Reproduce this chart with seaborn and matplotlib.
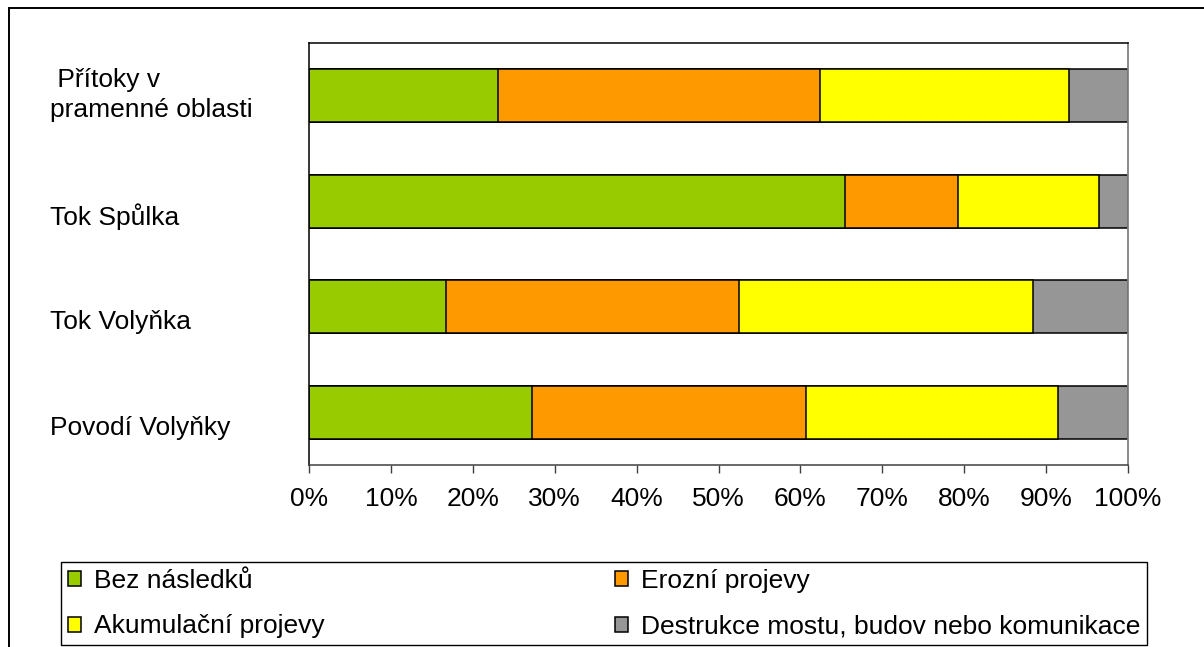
import matplotlib
matplotlib.use("Agg")
import matplotlib.pyplot as plt
from matplotlib.patches import Rectangle
from matplotlib.transforms import ScaledTranslation
import numpy as np
import pandas as pd
import seaborn as sns

# Share of observed flood effects per section (percent)
categories = [" Přítoky v\npramenné oblasti", "Tok Spůlka", "Tok Volyňka", "Povodí Volyňky"]
series_names = ["Bez následků", "Erozní projevy", "Akumulační projevy",
                "Destrukce mostu, budov nebo komunikace"]
bez_nasledku = [23.1, 65.4, 16.7, 27.2]
erozni = [39.3, 13.9, 35.8, 33.5]
akumulacni = [30.4, 17.2, 35.9, 30.8]
destrukce = [7.2, 3.5, 11.6, 8.5]
x_ticks = list(range(0, 101, 10))
x_tick_labels = [f"{v}%" for v in x_ticks]

colors = ["#99CC00", "#FF9900", "#FFFF00", "#969696"]

sns.set_theme(style="white")
plt.rcParams["font.family"] = ["Liberation Sans", "DejaVu Sans"]
plt.rcParams["text.color"] = "black"
plt.rcParams["xtick.color"] = "black"
plt.rcParams["ytick.color"] = "black"

DPI = 100
fig = plt.figure(figsize=(12.04, 6.47), dpi=DPI)
ax = fig.add_axes([309 / 1204, 1 - 465 / 647, (1128 - 309) / 1204, (465 - 43) / 647])

series = [bez_nasledku, erozni, akumulacni, destrukce]
cum = np.cumsum(np.array(series), axis=0)

# stacked bars: draw the longest cumulative layer first, shorter ones on top
for i in range(len(series) - 1, -1, -1):
    df = pd.DataFrame({"cat": categories, "val": cum[i]})
    sns.barplot(data=df, x="val", y="cat", orient="h", color=colors[i],
                saturation=1, width=0.5, edgecolor="black", linewidth=1.1,
                ax=ax, order=categories)

ax.set_xlim(0, 100)
ax.set_ylim(3.5, -0.5)
ax.set_xticks(x_ticks)
ax.set_xticklabels(x_tick_labels, fontsize=19)
ax.set_xlabel("")
ax.set_ylabel("")
ax.tick_params(axis="x", direction="out", length=5.8, width=1, color="#404040",
               pad=10, bottom=True, labelcolor="black")
ax.tick_params(axis="y", length=0, pad=186.5, labelsize=19, labelcolor="black")
for lbl in ax.get_yticklabels():
    lbl.set_horizontalalignment("left")
    lbl.set_multialignment("left")
    if "\n" in lbl.get_text():
        lbl.set_linespacing(1.3)
        dy = 6
    else:
        dy = -13
    lbl.set_transform(lbl.get_transform() + ScaledTranslation(0, dy / DPI, fig.dpi_scale_trans))

for side in ["left", "top", "bottom"]:
    ax.spines[side].set_visible(True)
    ax.spines[side].set_color("black")
    ax.spines[side].set_linewidth(1.1)
ax.spines["bottom"].set_color("#404040")
ax.spines["right"].set_visible(True)
ax.spines["right"].set_color("#808080")
ax.spines["right"].set_linewidth(1.3)

handles = [Rectangle((0, 0), 1, 1, facecolor=c, edgecolor="black", linewidth=1.1)
           for c in colors]
order = [0, 2, 1, 3]
leg = fig.legend([handles[k] for k in order], [series_names[k] for k in order],
                 ncol=2, mode="expand", loc="lower left",
                 bbox_to_anchor=(61 / 1204, 1 - 645 / 647, (1147 - 61) / 1204, (645 - 561) / 647),
                 fontsize=19, frameon=True, fancybox=False, edgecolor="black",
                 framealpha=1, handlelength=0.5, handleheight=0.5,
                 handletextpad=0.5, labelspacing=0.82, borderpad=0.25,
                 borderaxespad=0, columnspacing=1.0, labelcolor="black")
leg.get_frame().set_linewidth(1.0)

# outer chart border
fig.patches.append(Rectangle((9 / 1204, -0.05), 1.05, 1 - 8 / 647 + 0.05,
                             transform=fig.transFigure, fill=False,
                             edgecolor="black", linewidth=1.4))

fig.savefig("out.png", dpi=DPI)
